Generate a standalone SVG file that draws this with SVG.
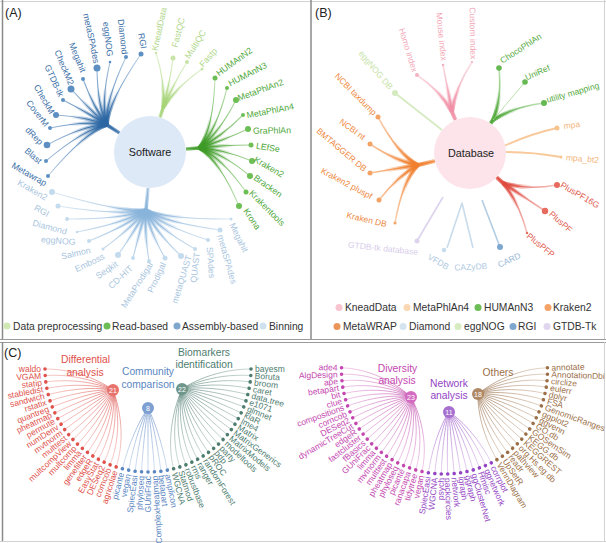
<svg xmlns="http://www.w3.org/2000/svg" width="606" height="543" viewBox="0 0 606 543">
<style>
text{font-family:"Liberation Sans",Arial,Helvetica,sans-serif}
.pl{font-size:12.5px;fill:#222}
.lg{font-size:10.3px;fill:#333}
.la{font-size:8.8px;text-anchor:middle}
.lb{font-size:8.5px;text-anchor:middle}
.lc{font-size:8.5px}
.e{text-anchor:end}
.ttl{font-size:10.3px;text-anchor:middle}
.num{font-size:7px;fill:#fff;text-anchor:middle}
.ctr{font-size:10.8px;fill:#222;text-anchor:middle}
.frame{stroke:#8a8a8a;stroke-width:1.5;fill:none}
.thin{stroke:#d2d2d2;stroke-width:1;fill:none}
.cl{fill:none;stroke-width:0.6}
</style>
<defs>
<radialGradient id="gBlue" gradientUnits="userSpaceOnUse" cx="107" cy="125" r="85"><stop offset="0" stop-color="#2b66a3"/><stop offset="1" stop-color="#6f9cc8" stop-opacity="0.4"/></radialGradient>
<radialGradient id="gBlueS" gradientUnits="userSpaceOnUse" cx="107" cy="125" r="38"><stop offset="0" stop-color="#2b66a3" stop-opacity="0.9"/><stop offset="1" stop-color="#2b66a3" stop-opacity="0"/></radialGradient>
<radialGradient id="gGreen" gradientUnits="userSpaceOnUse" cx="199" cy="148" r="75"><stop offset="0" stop-color="#3c9a25"/><stop offset="1" stop-color="#7cc464" stop-opacity="0.4"/></radialGradient>
<radialGradient id="gGreenS" gradientUnits="userSpaceOnUse" cx="199" cy="148" r="35"><stop offset="0" stop-color="#3c9a25" stop-opacity="0.9"/><stop offset="1" stop-color="#3c9a25" stop-opacity="0"/></radialGradient>
<radialGradient id="gLg" gradientUnits="userSpaceOnUse" cx="163" cy="108" r="60"><stop offset="0" stop-color="#a6d477"/><stop offset="1" stop-color="#cde8b0" stop-opacity="0.5"/></radialGradient>
<radialGradient id="gLgS" gradientUnits="userSpaceOnUse" cx="163" cy="108" r="30"><stop offset="0" stop-color="#a6d477" stop-opacity="0.9"/><stop offset="1" stop-color="#a6d477" stop-opacity="0"/></radialGradient>
<radialGradient id="gBin" gradientUnits="userSpaceOnUse" cx="146" cy="210" r="100"><stop offset="0" stop-color="#88b3da"/><stop offset="1" stop-color="#c9dded" stop-opacity="0.5"/></radialGradient>
<radialGradient id="gBinS" gradientUnits="userSpaceOnUse" cx="146" cy="210" r="40"><stop offset="0" stop-color="#88b3da" stop-opacity="0.9"/><stop offset="1" stop-color="#88b3da" stop-opacity="0"/></radialGradient>
<radialGradient id="gPink" gradientUnits="userSpaceOnUse" cx="452" cy="112" r="55"><stop offset="0" stop-color="#f08fa5"/><stop offset="1" stop-color="#f7c3cf" stop-opacity="0.5"/></radialGradient>
<radialGradient id="gPinkS" gradientUnits="userSpaceOnUse" cx="452" cy="112" r="30"><stop offset="0" stop-color="#f08fa5" stop-opacity="0.9"/><stop offset="1" stop-color="#f08fa5" stop-opacity="0"/></radialGradient>
<radialGradient id="gOr" gradientUnits="userSpaceOnUse" cx="418" cy="165" r="70"><stop offset="0" stop-color="#f07f2e"/><stop offset="1" stop-color="#f6b37f" stop-opacity="0.5"/></radialGradient>
<radialGradient id="gOrS" gradientUnits="userSpaceOnUse" cx="418" cy="165" r="35"><stop offset="0" stop-color="#f07f2e" stop-opacity="0.9"/><stop offset="1" stop-color="#f07f2e" stop-opacity="0"/></radialGradient>
<radialGradient id="gGr2" gradientUnits="userSpaceOnUse" cx="493" cy="120" r="60"><stop offset="0" stop-color="#4da738"/><stop offset="1" stop-color="#93cf80" stop-opacity="0.5"/></radialGradient>
<radialGradient id="gGr2S" gradientUnits="userSpaceOnUse" cx="493" cy="120" r="30"><stop offset="0" stop-color="#4da738" stop-opacity="0.9"/><stop offset="1" stop-color="#4da738" stop-opacity="0"/></radialGradient>
<radialGradient id="gRd" gradientUnits="userSpaceOnUse" cx="503" cy="183" r="60"><stop offset="0" stop-color="#df4a3e"/><stop offset="1" stop-color="#f09a91" stop-opacity="0.5"/></radialGradient>
<radialGradient id="gRdS" gradientUnits="userSpaceOnUse" cx="503" cy="183" r="30"><stop offset="0" stop-color="#df4a3e" stop-opacity="0.9"/><stop offset="1" stop-color="#df4a3e" stop-opacity="0"/></radialGradient>
<radialGradient id="gRed" gradientUnits="userSpaceOnUse" cx="113" cy="390" r="80"><stop offset="0" stop-color="#d8443e"/><stop offset="1" stop-color="#f2aaa5" stop-opacity="0.85"/></radialGradient>
<radialGradient id="gBl" gradientUnits="userSpaceOnUse" cx="148" cy="408" r="65"><stop offset="0" stop-color="#4d7bbd"/><stop offset="1" stop-color="#abc3e3" stop-opacity="0.85"/></radialGradient>
<radialGradient id="gTe" gradientUnits="userSpaceOnUse" cx="182" cy="389" r="85"><stop offset="0" stop-color="#3f6f62"/><stop offset="1" stop-color="#a9c3bb" stop-opacity="0.85"/></radialGradient>
<radialGradient id="gMa" gradientUnits="userSpaceOnUse" cx="411" cy="397" r="80"><stop offset="0" stop-color="#b8329f"/><stop offset="1" stop-color="#e8aadc" stop-opacity="0.85"/></radialGradient>
<radialGradient id="gPu" gradientUnits="userSpaceOnUse" cx="449" cy="412" r="65"><stop offset="0" stop-color="#8a3dbd"/><stop offset="1" stop-color="#d0abe6" stop-opacity="0.85"/></radialGradient>
<radialGradient id="gBr" gradientUnits="userSpaceOnUse" cx="478" cy="394" r="80"><stop offset="0" stop-color="#87582f"/><stop offset="1" stop-color="#d3bba2" stop-opacity="0.85"/></radialGradient>

<g id="fanBlue">
<path d="M107 125Q108.3 101.8 141 54"/><path d="M107 125Q104.5 102.5 126 57"/><path d="M107 125Q100.5 103.8 110 62"/><path d="M107 125Q97.3 105.3 97 68"/><path d="M107 125Q93.8 108 83 79"/><path d="M107 125Q90.8 110.5 71 89"/><path d="M107 125Q88.8 113.3 63 100"/><path d="M107 125Q87 117 56 115"/><path d="M107 125Q85.5 120.3 50 128"/><path d="M107 125Q84.8 124.5 47 145"/><path d="M107 125Q84.5 128.5 46 161"/><path d="M107 125Q85 132.3 48 176"/><path d="M107 125L119.5 133"/>
</g>
<g id="fanGreen">
<path d="M199 148Q213.5 128.3 215 78"/><path d="M199 148Q216.5 130.8 227 88"/><path d="M199 148Q218.8 133.8 236 100"/><path d="M199 148Q220.5 137.5 243 115"/><path d="M199 148Q221.8 141 248 129"/><path d="M199 148Q222.5 145 251 145"/><path d="M199 148Q222.8 149 252 161"/><path d="M199 148Q222.3 152.8 250 176"/><path d="M199 148Q221.3 156.8 246 192"/><path d="M199 148Q219.5 160.3 239 206"/><path d="M186 149L199 148"/>
</g>
<g id="fanLg">
<path d="M163 108Q165.4 82.4 156 53"/><path d="M163 108Q169.7 83.6 173 58"/><path d="M163 108Q173.2 84.6 187 62"/><path d="M163 108Q176.9 86.4 202 69"/><path d="M160 117.5L163 108"/>
</g>
<g id="fanBin">
<path d="M146 210Q120.1 212.4 52 192"/><path d="M146 210Q121.6 215.9 58 206"/><path d="M146 210Q123.9 219.2 67 219"/><path d="M146 210Q126.4 222.4 77 232"/><path d="M146 210Q129.4 224.7 89 241"/><path d="M146 210Q132.9 226.7 103 249"/><path d="M146 210Q136.6 228.2 118 255"/><path d="M146 210Q140.4 228.9 133 258"/><path d="M146 210Q144.1 229.9 149 261"/><path d="M146 210Q148.4 228.9 165 258"/><path d="M146 210Q152.4 228.4 181 256"/><path d="M146 210Q155.9 226.7 195 249"/><path d="M146 210Q159.1 224.4 208 240"/><path d="M146 210Q162.1 221.9 220 230"/><path d="M146 210Q164.9 219.2 231 219"/><path d="M148 188L146 210"/>
</g>
<g id="fanPink">
<path d="M452 112Q441.3 91.6 417 75"/><path d="M452 112Q447.8 89.1 443 65"/><path d="M452 112Q455 88.3 472 62"/><path d="M455.5 120L452 112"/>
</g>
<g id="fanOr">
<path d="M418 165Q398.1 154.6 378 117"/><path d="M418 165Q396.1 161.4 370 144"/><path d="M418 165Q396.1 168.6 370 173"/><path d="M418 165Q398.4 175.4 379 200"/><path d="M418 165Q402.4 181.1 395 223"/><path d="M435 161L418 165"/>
</g>
<g id="fanGr2">
<path d="M493 120Q502 98.1 499 68"/><path d="M493 120Q513.2 106.9 544 103"/><path d="M490.6 123.4L493 120"/>
</g>
<g id="fanRd">
<path d="M503 183Q526.5 190.2 557 185"/><path d="M503 183Q523.5 196.7 545 211"/><path d="M503 183Q519 202.2 527 233"/><path d="M496.6 177.2L503 183"/>
</g>
</defs>

<rect width="606" height="543" fill="#fff"/>

<g id="frames">
<line class="thin" x1="0" y1="1.5" x2="606" y2="1.5"/>
<line class="thin" x1="604.5" y1="0" x2="604.5" y2="339"/>
<line class="frame" x1="2.5" y1="0" x2="2.5" y2="340"/>
<line class="frame" x1="311" y1="0" x2="311" y2="339"/>
<line x1="0" y1="339.5" x2="606" y2="339.5" stroke="#9a9a9a" stroke-width="1"/>
<line x1="0" y1="342.5" x2="606" y2="342.5" stroke="#9a9a9a" stroke-width="1"/>
<line class="frame" x1="2.5" y1="342" x2="2.5" y2="542"/>
<line class="thin" x1="0" y1="541.5" x2="606" y2="541.5"/>
<line class="thin" x1="604.5" y1="342" x2="604.5" y2="542"/>
</g>

<g id="panel-labels">
<text class="pl" x="5" y="17">(A)</text>
<text class="pl" x="315" y="17">(B)</text>
<text class="pl" x="4" y="357">(C)</text>
</g>

<!-- ===== connectors ===== -->
<g id="connectors">
<use href="#fanBlue" fill="none" stroke="url(#gBlue)" stroke-width="1.1"/>
<use href="#fanBlue" fill="none" stroke="url(#gBlueS)" stroke-width="3.5"/>
<use href="#fanGreen" fill="none" stroke="url(#gGreen)" stroke-width="1.1"/>
<use href="#fanGreen" fill="none" stroke="url(#gGreenS)" stroke-width="3.5"/>
<use href="#fanLg" fill="none" stroke="url(#gLg)" stroke-width="1.2"/>
<use href="#fanLg" fill="none" stroke="url(#gLgS)" stroke-width="3.5"/>
<use href="#fanBin" fill="none" stroke="url(#gBin)" stroke-width="1.1"/>
<use href="#fanBin" fill="none" stroke="url(#gBinS)" stroke-width="3.5"/>

<use href="#fanPink" fill="none" stroke="url(#gPink)" stroke-width="1.6"/>
<use href="#fanPink" fill="none" stroke="url(#gPinkS)" stroke-width="4"/>
<path d="M442 130L395 93" stroke="#d6ebc2" stroke-width="1.8" fill="none"/>
<use href="#fanOr" fill="none" stroke="url(#gOr)" stroke-width="1.6"/>
<use href="#fanOr" fill="none" stroke="url(#gOrS)" stroke-width="4"/>
<path d="M443 197L417 241" stroke="#ddd3ee" stroke-width="1.6" fill="none"/>
<path d="M447 248L462 203L473 248" stroke="#c9dcec" stroke-width="1.6" fill="none" stroke-linejoin="round"/>
<path d="M482 200L500 247" stroke="#b3cce3" stroke-width="1.6" fill="none"/>
<use href="#fanGr2" fill="none" stroke="url(#gGr2)" stroke-width="1.6"/>
<use href="#fanGr2" fill="none" stroke="url(#gGr2S)" stroke-width="4"/>
<path d="M493 120Q508.5 101.6 525 82" stroke="#a9d99a" stroke-width="0.8" fill="none"/>
<g fill="none" stroke="#f8c99b" stroke-width="1.8">
<path d="M504 146Q530 134 557 128"/><path d="M505 152Q532 152 561 157"/>
</g>
<use href="#fanRd" fill="none" stroke="url(#gRd)" stroke-width="1.6"/>
<use href="#fanRd" fill="none" stroke="url(#gRdS)" stroke-width="4"/>

<g class="cl" stroke="url(#gRed)">
<path d="M113 390C113 390 86.2 369 45 369"/><path d="M113 390C113 390 86.3 372.9 45.2 375.5"/><path d="M113 390C113 390 86.7 376.8 45.8 381.9"/><path d="M113 390C113 390 87.3 380.6 46.8 388.3"/><path d="M113 390C113 390 88.1 384.4 48.2 394.6"/><path d="M113 390C113 390 89.2 388.1 50 400.8"/><path d="M113 390C113 390 90.5 391.8 52.2 406.9"/><path d="M113 390C113 390 92.1 395.3 54.8 412.9"/><path d="M113 390C113 390 93.8 398.8 57.7 418.6"/><path d="M113 390C113 390 95.8 402.1 61 424.2"/><path d="M113 390C113 390 98 405.3 64.7 429.5"/><path d="M113 390C113 390 100.4 408.4 68.6 434.7"/><path d="M113 390C113 390 103 411.3 72.9 439.5"/><path d="M113 390C113 390 105.7 414.1 77.5 444.1"/><path d="M113 390C113 390 108.6 416.6 82.4 448.4"/><path d="M113 390C113 390 111.7 419 87.5 452.3"/><path d="M113 390C113 390 114.9 421.2 92.8 456"/><path d="M113 390C113 390 118.2 423.2 98.4 459.3"/><path d="M113 390C113 390 121.7 424.9 104.1 462.2"/><path d="M113 390C113 390 125.3 426.5 110.1 464.8"/><path d="M113 390C113 390 128.9 427.8 116.2 467"/>
</g>
<g class="cl" stroke="url(#gBl)">
<path d="M148 408C148 408 132.6 428.9 122.4 468.8"/><path d="M148 408C148 408 136.4 429.7 128.7 470.2"/><path d="M148 408C148 408 140.3 430.3 135.1 471.2"/><path d="M148 408C148 408 144.1 430.7 141.5 471.8"/><path d="M148 408C148 408 148 430.8 148 472"/><path d="M148 408C148 408 151.9 430.7 154.5 471.8"/><path d="M148 408C148 408 155.8 430.3 160.9 471.2"/><path d="M148 408C148 408 159.6 429.7 167.3 470.2"/>
</g>
<g class="cl" stroke="url(#gTe)">
<path d="M182 389C182 389 163.4 428.9 173.6 468.8"/><path d="M182 389C182 389 167.1 427.8 179.8 467"/><path d="M182 389C182 389 170.8 426.5 185.9 464.8"/><path d="M182 389C182 389 174.3 424.9 191.9 462.2"/><path d="M182 389C182 389 177.8 423.2 197.6 459.3"/><path d="M182 389C182 389 181.1 421.2 203.2 456"/><path d="M182 389C182 389 184.3 419 208.5 452.3"/><path d="M182 389C182 389 187.4 416.6 213.6 448.4"/><path d="M182 389C182 389 190.3 414.1 218.5 444.1"/><path d="M182 389C182 389 193 411.3 223.1 439.5"/><path d="M182 389C182 389 195.6 408.4 227.4 434.7"/><path d="M182 389C182 389 198 405.3 231.3 429.5"/><path d="M182 389C182 389 200.2 402.1 235 424.2"/><path d="M182 389C182 389 202.2 398.8 238.3 418.6"/><path d="M182 389C182 389 203.9 395.3 241.2 412.9"/><path d="M182 389C182 389 205.5 391.8 243.8 406.9"/><path d="M182 389C182 389 206.8 388.1 246 400.8"/><path d="M182 389C182 389 207.9 384.4 247.8 394.6"/><path d="M182 389C182 389 208.7 380.6 249.2 388.3"/><path d="M182 389C182 389 209.3 376.8 250.2 381.9"/><path d="M182 389C182 389 209.7 372.9 250.8 375.5"/><path d="M182 389C182 389 209.8 369 251 369"/>
</g>
<g class="cl" stroke="url(#gMa)">
<path d="M411 397C411 397 382.7 369.1 341.6 367.8"/><path d="M411 397C411 397 382.7 372.9 341.6 374.2"/><path d="M411 397C411 397 383 376.8 342 380.7"/><path d="M411 397C411 397 383.5 380.7 342.8 387.1"/><path d="M411 397C411 397 384.2 384.5 344 393.5"/><path d="M411 397C411 397 385.2 388.2 345.6 399.7"/><path d="M411 397C411 397 386.4 391.9 347.6 405.9"/><path d="M411 397C411 397 387.8 395.6 350 411.9"/><path d="M411 397C411 397 389.4 399.1 352.7 417.8"/><path d="M411 397C411 397 391.3 402.5 355.8 423.4"/><path d="M411 397C411 397 393.4 405.7 359.3 428.9"/><path d="M411 397C411 397 395.7 408.9 363.1 434.1"/><path d="M411 397C411 397 398.1 411.9 367.2 439.1"/><path d="M411 397C411 397 400.8 414.7 371.7 443.8"/><path d="M411 397C411 397 403.6 417.4 376.4 448.3"/><path d="M411 397C411 397 406.6 419.8 381.4 452.4"/><path d="M411 397C411 397 409.8 422.1 386.6 456.2"/><path d="M411 397C411 397 413 424.2 392.1 459.7"/><path d="M411 397C411 397 416.4 426.1 397.7 462.8"/><path d="M411 397C411 397 420 427.7 403.6 465.5"/><path d="M411 397C411 397 423.6 429.2 409.6 467.9"/><path d="M411 397C411 397 427.3 430.4 415.8 469.9"/><path d="M411 397C411 397 431 431.3 422 471.5"/>
</g>
<g class="cl" stroke="url(#gPu)">
<path d="M449 412C449 412 434.8 432 428.4 472.7"/><path d="M449 412C449 412 438.7 432.5 434.8 473.5"/><path d="M449 412C449 412 442.6 432.8 441.3 474"/><path d="M449 412C449 412 446.4 432.8 447.7 474"/><path d="M449 412C449 412 450.3 432.5 454.2 473.5"/><path d="M449 412C449 412 454.2 432 460.6 472.7"/><path d="M449 412C449 412 458 431.3 467 471.5"/><path d="M449 412C449 412 461.7 430.4 473.2 469.9"/><path d="M449 412C449 412 465.4 429.2 479.4 467.9"/><path d="M449 412C449 412 469.1 427.7 485.4 465.5"/><path d="M449 412C449 412 472.6 426.1 491.3 462.8"/>
</g>
<g class="cl" stroke="url(#gBr)">
<path d="M478 394C478 394 476 424.2 496.9 459.7"/><path d="M478 394C478 394 479.2 422.1 502.4 456.2"/><path d="M478 394C478 394 482.4 419.8 507.6 452.4"/><path d="M478 394C478 394 485.4 417.4 512.6 448.3"/><path d="M478 394C478 394 488.2 414.7 517.3 443.8"/><path d="M478 394C478 394 490.9 411.9 521.8 439.1"/><path d="M478 394C478 394 493.3 408.9 525.9 434.1"/><path d="M478 394C478 394 495.6 405.7 529.7 428.9"/><path d="M478 394C478 394 497.7 402.5 533.2 423.4"/><path d="M478 394C478 394 499.6 399.1 536.3 417.8"/><path d="M478 394C478 394 501.2 395.6 539 411.9"/><path d="M478 394C478 394 502.7 391.9 541.4 405.9"/><path d="M478 394C478 394 503.9 388.2 543.4 399.7"/><path d="M478 394C478 394 504.8 384.5 545 393.5"/><path d="M478 394C478 394 505.5 380.7 546.2 387.1"/><path d="M478 394C478 394 506 376.8 547 380.7"/><path d="M478 394C478 394 506.3 372.9 547.5 374.2"/><path d="M478 394C478 394 506.3 369.1 547.5 367.8"/>
</g>
</g>

<!-- ===== Panel A ===== -->
<g id="software">
<circle cx="150" cy="152" r="36" fill="#dde9f7"/>
<text class="ctr" x="150" y="156">Software</text>
</g>
<g id="a-assembly" class="la" fill="#3d71a8">
<g fill="#5d8fc3"><circle cx="141" cy="54" r="2.5"/><circle cx="126" cy="57" r="2"/><circle cx="110" cy="62" r="1.3"/><circle cx="97" cy="68" r="3.5"/><circle cx="83" cy="79" r="2"/><circle cx="71" cy="89" r="3.5"/><circle cx="63" cy="100" r="2"/><circle cx="56" cy="115" r="3"/><circle cx="50" cy="128" r="2"/><circle cx="47" cy="145" r="3.3"/><circle cx="46" cy="161" r="2"/><circle cx="48" cy="176" r="2"/></g>
<text transform="translate(142.5 40.8) rotate(79)" dy="3">RGI</text>
<text transform="translate(122.8 36.7) rotate(83)" dy="3">Diamond</text>
<text transform="translate(108 39.2) rotate(83)" dy="3">eggNOG</text>
<text transform="translate(91.3 38.3) rotate(78)" dy="3">metaSPAdes</text>
<text transform="translate(77.5 57.5) rotate(68)" dy="3">Megahit</text>
<text transform="translate(64.2 67.5) rotate(67)" dy="3">CheckM2</text>
<text transform="translate(54.2 80.8) rotate(65)" dy="3">GTDB-tk</text>
<text transform="translate(44.2 99.2) rotate(60)" dy="3">CheckM</text>
<text transform="translate(37.5 113.3) rotate(52)" dy="3">CoverM</text>
<text transform="translate(34.2 135.8) rotate(45)" dy="3">dRep</text>
<text transform="translate(33.3 155.8) rotate(41)" dy="3">Blast</text>
<text transform="translate(29.2 174.2) rotate(30)" dy="3">Metawrap</text>
</g>
<g id="a-read" class="la" fill="#4fa83a">
<g fill="#6cbe55"><circle cx="215" cy="78" r="2.5"/><circle cx="227" cy="88" r="2"/><circle cx="236" cy="100" r="3"/><circle cx="243" cy="115" r="2"/><circle cx="248" cy="129" r="3"/><circle cx="251" cy="145" r="2.5"/><circle cx="252" cy="161" r="3"/><circle cx="250" cy="176" r="3"/><circle cx="246" cy="192" r="2.5"/><circle cx="239" cy="206" r="3"/></g>
<text transform="translate(234.2 61.7) rotate(-36)" dy="3">HUMAnN2</text>
<text transform="translate(247.5 74.2) rotate(-27)" dy="3">HUMAnN3</text>
<text transform="translate(260.5 90) rotate(-20)" dy="3">MetaPhlAn2</text>
<text transform="translate(270.2 110.8) rotate(-11)" dy="3">MetaPhlAn4</text>
<text transform="translate(272 130.5) rotate(-1)" dy="3">GraPhlAn</text>
<text transform="translate(268 147.5) rotate(8)" dy="3">LEfSe</text>
<text transform="translate(269 167) rotate(30)" dy="3">Kraken2</text>
<text transform="translate(268 186) rotate(35)" dy="3">Bracken</text>
<text transform="translate(267 208) rotate(45)" dy="3">Krakentools</text>
<text transform="translate(252 219) rotate(56)" dy="3">Krona</text>
</g>
<g id="a-preproc" class="la" fill="#b2d88c">
<g fill="#c8e4a8"><circle cx="156" cy="53" r="1.2"/><circle cx="173" cy="58" r="2.5"/><circle cx="187" cy="62" r="2"/><circle cx="202" cy="69" r="1.5"/></g>
<text transform="translate(159.2 29.2) rotate(-78)" dy="3">KneadData</text>
<text transform="translate(178.3 32.5) rotate(-76)" dy="3">FastQC</text>
<text transform="translate(195.5 44.2) rotate(-58)" dy="3">MultiQC</text>
<text transform="translate(208.3 57.5) rotate(-48)" dy="3">Fastp</text>
</g>
<g id="a-binning" class="la" fill="#a9c5de">
<g fill="#c4dbee"><circle cx="52" cy="192" r="3"/><circle cx="58" cy="206" r="2.5"/><circle cx="67" cy="219" r="2"/><circle cx="77" cy="232" r="1.3"/><circle cx="89" cy="241" r="2"/><circle cx="103" cy="249" r="1.5"/><circle cx="118" cy="255" r="3"/><circle cx="133" cy="258" r="2"/><circle cx="149" cy="261" r="2"/><circle cx="165" cy="258" r="2.5"/><circle cx="181" cy="256" r="3"/><circle cx="195" cy="249" r="2"/><circle cx="208" cy="240" r="2"/><circle cx="220" cy="230" r="2.5"/><circle cx="231" cy="219" r="1.5"/></g>
<text transform="translate(32.5 190) rotate(30)" dy="3">Kraken2</text>
<text transform="translate(41.7 210.8) rotate(28)" dy="3">RGI</text>
<text transform="translate(49.7 227.2) rotate(15)" dy="3">Diamond</text>
<text transform="translate(58.3 240.7) rotate(5)" dy="3">eggNOG</text>
<text transform="translate(75.8 253.3) rotate(-13)" dy="3">Salmon</text>
<text transform="translate(89.7 262.7) rotate(-26)" dy="3">Emboss</text>
<text transform="translate(106.7 270) rotate(-34)" dy="3">Seqkit</text>
<text transform="translate(120.5 277) rotate(-43)" dy="3">CD-HIT</text>
<text transform="translate(137 285) rotate(-58)" dy="3">MetaProdigal</text>
<text transform="translate(156.7 277.5) rotate(-65)" dy="3">Prodigal</text>
<text transform="translate(181.7 279.2) rotate(-73)" dy="3">metaQUAST</text>
<text transform="translate(195 267.5) rotate(-83)" dy="3">QUAST</text>
<text transform="translate(210.8 262.5) rotate(85)" dy="3">SPAdes</text>
<text transform="translate(227 259.2) rotate(74)" dy="3">metaSPAdes</text>
<text transform="translate(238.8 237.5) rotate(64)" dy="3">Megahit</text>
</g>
<g id="legend-a" class="lg">
<circle cx="7" cy="326" r="3.5" fill="#cfe8b4"/><text x="13" y="330">Data preprocessing</text>
<circle cx="107" cy="326" r="3.5" fill="#6cbd55"/><text x="112" y="330">Read-based</text>
<circle cx="177" cy="326" r="3.5" fill="#7fa6cc"/><text x="182" y="330">Assembly-based</text>
<circle cx="263" cy="326" r="3.5" fill="#cfe1ef"/><text x="269" y="330">Binning</text>
</g>

<!-- ===== Panel B ===== -->
<g id="database">
<circle cx="470" cy="153" r="36" fill="#fde3ea"/>
<text class="ctr" x="471" y="157">Database</text>
</g>
<g id="b-knead" class="lb" fill="#f3a8b8">
<circle cx="417" cy="75" r="2" fill="#f4b3c1"/><circle cx="443" cy="65" r="1.3" fill="#f4b3c1"/><circle cx="472" cy="62" r="1.1" fill="#f4b3c1"/>
<text transform="translate(408.3 50) rotate(73)" dy="3">Homo index</text>
<text transform="translate(441.7 36.7) rotate(84)" dy="3">Mouse index</text>
<text transform="translate(473 33.3) rotate(89)" dy="3">Custom index</text>
</g>
<g id="b-eggnog" class="lb" fill="#c8e3a9">
<circle cx="395" cy="93" r="3" fill="#d4ebbf"/>
<text transform="translate(375.8 70) rotate(50)" dy="3">eggNOG DB</text>
</g>
<g id="b-metawrap" class="lb" fill="#ee8a43">
<g fill="#f3a366"><circle cx="378" cy="117" r="2.5"/><circle cx="370" cy="144" r="2.5"/><circle cx="370" cy="173" r="2.5"/><circle cx="379" cy="200" r="2.5"/><circle cx="395" cy="223" r="1.5"/></g>
<text transform="translate(355.8 94.2) rotate(45)" dy="3">NCBI taxdump</text>
<text transform="translate(352.5 129.2) rotate(36)" dy="3">NCBI nt</text>
<text transform="translate(341.7 149.7) rotate(40)" dy="3">BMTAGGER DB</text>
<text transform="translate(346.7 183.3) rotate(28)" dy="3">Kraken2 pluspf</text>
<text transform="translate(366.7 219.5) rotate(13)" dy="3">Kraken DB</text>
</g>
<g id="b-gtdb" class="lb" fill="#d8cdea">
<circle cx="417" cy="241" r="2.5" fill="#ddd3ee"/>
<text transform="translate(383 248.3) rotate(6)" dy="3">GTDB-tk database</text>
</g>
<g id="b-diamond" class="lb" fill="#afcae2">
<circle cx="444" cy="250" r="2.3" fill="#c7dcec"/>
<text transform="translate(438.3 261.7) rotate(30)" dy="3">VFDB</text>
<text transform="translate(470.8 266.7) rotate(-3)" dy="3">CAZyDB</text>
</g>
<g id="b-rgi" class="lb" fill="#9dbbd8">
<circle cx="500" cy="247" r="3" fill="#7ea7cf"/>
<text transform="translate(509.2 260) rotate(-25)" dy="3">CARD</text>
</g>
<g id="b-humann" class="lb" fill="#58ab45">
<g fill="#66b852"><circle cx="499" cy="68" r="2.8"/><circle cx="525" cy="82" r="2.8"/><circle cx="544" cy="103" r="3"/></g>
<text transform="translate(520.8 48.3) rotate(-33)" dy="3">ChocoPhlAn</text>
<text transform="translate(537.5 72.5) rotate(-24)" dy="3">UniRef</text>
<text transform="translate(572.8 92.5) rotate(-16)" dy="3">utility mapping</text>
</g>
<g id="b-metaphlan" class="lb" fill="#f4b57a">
<circle cx="557" cy="128" r="2.5" fill="#f7c490"/><circle cx="561" cy="157" r="1.5" fill="#f7c490"/>
<text transform="translate(571.7 125) rotate(-8)" dy="3">mpa</text>
<text transform="translate(582.5 158.7) rotate(5)" dy="3">mpa_bt2</text>
</g>
<g id="b-kraken" class="lb" fill="#e05a4e">
<g fill="#e66a5e"><circle cx="557" cy="185" r="3"/><circle cx="545" cy="211" r="3.2"/><circle cx="527" cy="233" r="1.2"/></g>
<text transform="translate(580 195) rotate(30)" dy="3">PlusPF16G</text>
<text transform="translate(560.8 221.7) rotate(42)" dy="3">PlusPF</text>
<text transform="translate(540.8 245) rotate(39)" dy="3">PlusPFP</text>
</g>
<g id="legend-b" class="lg">
<circle cx="339" cy="307.5" r="3.5" fill="#f8c4cf"/><text x="345" y="311">KneadData</text>
<circle cx="407" cy="307.5" r="3.5" fill="#f9d8b3"/><text x="413" y="311">MetaPhlAn4</text>
<circle cx="478" cy="307.5" r="3.5" fill="#6cbd55"/><text x="484" y="311">HUMAnN3</text>
<circle cx="548" cy="307.5" r="3.5" fill="#f4a368"/><text x="553" y="311">Kraken2</text>
<circle cx="337" cy="326.5" r="3.5" fill="#ec9558"/><text x="343" y="330">MetaWRAP</text>
<circle cx="403" cy="326.5" r="3.5" fill="#d3e3f0"/><text x="409" y="330">Diamond</text>
<circle cx="458" cy="326.5" r="3.5" fill="#d6ecc0"/><text x="464" y="330">eggNOG</text>
<circle cx="513" cy="326.5" r="3.5" fill="#7fa6cc"/><text x="518" y="330">RGI</text>
<circle cx="547" cy="326.5" r="3.5" fill="#e0d6ee"/><text x="553" y="330">GTDB-Tk</text>
</g>

<!-- ===== Panel C ===== -->
<g id="c-diff">
<text class="ttl" x="85.5" y="363" fill="#e0504a">Differential</text>
<text class="ttl" x="85" y="376" fill="#e0504a">analysis</text>
<circle cx="113" cy="390" r="6" fill="#e8736d"/><text class="num" x="113" y="392.5">21</text>
</g>
<g id="c-comm">
<text class="ttl" x="148" y="375" fill="#5a86c2">Community</text>
<text class="ttl" x="148" y="388" fill="#5a86c2">comparison</text>
<circle cx="148" cy="408" r="6" fill="#7d9fd2"/><text class="num" x="148" y="410.5">8</text>
</g>
<g id="c-bio">
<text class="ttl" x="204" y="356" fill="#4e7d70">Biomarkers</text>
<text class="ttl" x="204" y="368" fill="#4e7d70">identification</text>
<circle cx="182" cy="389" r="6" fill="#6f968b"/><text class="num" x="182" y="391.5">22</text>
</g>
<g id="c-div">
<text class="ttl" x="397.5" y="372" fill="#c447b0">Diversity</text>
<text class="ttl" x="397" y="384" fill="#c447b0">analysis</text>
<circle cx="411" cy="397" r="6" fill="#d26bc1"/><text class="num" x="411" y="399.5">23</text>
</g>
<g id="c-net">
<text class="ttl" x="449" y="387" fill="#9344c4">Network</text>
<text class="ttl" x="449" y="399" fill="#9344c4">analysis</text>
<circle cx="449" cy="412" r="6" fill="#a66fd0"/><text class="num" x="449" y="414.5">11</text>
</g>
<g id="c-oth">
<text class="ttl" x="498" y="376" fill="#9b7048">Others</text>
<circle cx="478" cy="394" r="6" fill="#b08a66"/><text class="num" x="478" y="396.5">18</text>
</g>

<g id="c-leaves-diff" class="lc" fill="#e0524c">
<g transform="translate(148 369)"><circle cx="-103" r="1.8"/><text x="-107" dy="3" class="e">waldo</text></g>
<g transform="translate(148 369) rotate(-3.6)"><circle cx="-103" r="1.8"/><text x="-107" dy="3" class="e">VGAM</text></g>
<g transform="translate(148 369) rotate(-7.2)"><circle cx="-103" r="1.8"/><text x="-107" dy="3" class="e">statip</text></g>
<g transform="translate(148 369) rotate(-10.8)"><circle cx="-103" r="1.8"/><text x="-107" dy="3" class="e">stabledist</text></g>
<g transform="translate(148 369) rotate(-14.4)"><circle cx="-103" r="1.8"/><text x="-107" dy="3" class="e">sandwich</text></g>
<g transform="translate(148 369) rotate(-18)"><circle cx="-103" r="1.8"/><text x="-107" dy="3" class="e">rstatix</text></g>
<g transform="translate(148 369) rotate(-21.6)"><circle cx="-103" r="1.8"/><text x="-107" dy="3" class="e">quantreg</text></g>
<g transform="translate(148 369) rotate(-25.2)"><circle cx="-103" r="1.8"/><text x="-107" dy="3" class="e">pheatmap</text></g>
<g transform="translate(148 369) rotate(-28.8)"><circle cx="-103" r="1.8"/><text x="-107" dy="3" class="e">permute</text></g>
<g transform="translate(148 369) rotate(-32.4)"><circle cx="-103" r="1.8"/><text x="-107" dy="3" class="e">numDeriv</text></g>
<g transform="translate(148 369) rotate(-36)"><circle cx="-103" r="1.8"/><text x="-107" dy="3" class="e">mvtnorm</text></g>
<g transform="translate(148 369) rotate(-39.6)"><circle cx="-103" r="1.8"/><text x="-107" dy="3" class="e">multtest</text></g>
<g transform="translate(148 369) rotate(-43.2)"><circle cx="-103" r="1.8"/><text x="-107" dy="3" class="e">multcompView</text></g>
<g transform="translate(148 369) rotate(-46.8)"><circle cx="-103" r="1.8"/><text x="-107" dy="3" class="e">multcomp</text></g>
<g transform="translate(148 369) rotate(-50.4)"><circle cx="-103" r="1.8"/><text x="-107" dy="3" class="e">limma</text></g>
<g transform="translate(148 369) rotate(-54)"><circle cx="-103" r="1.8"/><text x="-107" dy="3" class="e">genefilter</text></g>
<g transform="translate(148 369) rotate(-57.6)"><circle cx="-103" r="1.8"/><text x="-107" dy="3" class="e">edgeR</text></g>
<g transform="translate(148 369) rotate(-61.2)"><circle cx="-103" r="1.8"/><text x="-107" dy="3" class="e">EasyStat</text></g>
<g transform="translate(148 369) rotate(-64.8)"><circle cx="-103" r="1.8"/><text x="-107" dy="3" class="e">DESeq2</text></g>
<g transform="translate(148 369) rotate(-68.4)"><circle cx="-103" r="1.8"/><text x="-107" dy="3" class="e">corncob</text></g>
<g transform="translate(148 369) rotate(-72)"><circle cx="-103" r="1.8"/><text x="-107" dy="3" class="e">agricolae</text></g>
</g>
<g id="c-leaves-comm" class="lc" fill="#5a86c2">
<g transform="translate(148 369) rotate(-75.6)"><circle cx="-103" r="1.8"/><text x="-107" dy="3" class="e">picante</text></g>
<g transform="translate(148 369) rotate(-79.2)"><circle cx="-103" r="1.8"/><text x="-107" dy="3" class="e">vegan</text></g>
<g transform="translate(148 369) rotate(-82.8)"><circle cx="-103" r="1.8"/><text x="-107" dy="3" class="e">SpiecEasi</text></g>
<g transform="translate(148 369) rotate(-86.4)"><circle cx="-103" r="1.8"/><text x="-107" dy="3" class="e">phyloseq</text></g>
<g transform="translate(148 369) rotate(-90)"><circle cx="-103" r="1.8"/><text x="-107" dy="3" class="e">GUniFrac</text></g>
<g transform="translate(148 369) rotate(-93.6)"><circle cx="-103" r="1.8"/><text x="-107" dy="3" class="e">ComplexHeatmap</text></g>
<g transform="translate(148 369) rotate(82.8)"><circle cx="103" r="1.8"/><text x="107" dy="3">betapart</text></g>
<g transform="translate(148 369) rotate(79.2)"><circle cx="103" r="1.8"/><text x="107" dy="3">amplicon</text></g>
</g>
<g id="c-leaves-bio" class="lc" fill="#4e7d70">
<g transform="translate(148 369) rotate(75.6)"><circle cx="103" r="1.8"/><text x="107" dy="3">WGCNA</text></g>
<g transform="translate(148 369) rotate(72)"><circle cx="103" r="1.8"/><text x="107" dy="3">Statmod</text></g>
<g transform="translate(148 369) rotate(68.4)"><circle cx="103" r="1.8"/><text x="107" dy="3">robustbase</text></g>
<g transform="translate(148 369) rotate(64.8)"><circle cx="103" r="1.8"/><text x="107" dy="3">rms</text></g>
<g transform="translate(148 369) rotate(61.2)"><circle cx="103" r="1.8"/><text x="107" dy="3">ranger</text></g>
<g transform="translate(148 369) rotate(57.6)"><circle cx="103" r="1.8"/><text x="107" dy="3">randomForest</text></g>
<g transform="translate(148 369) rotate(54)"><circle cx="103" r="1.8"/><text x="107" dy="3">pROC</text></g>
<g transform="translate(148 369) rotate(50.4)"><circle cx="103" r="1.8"/><text x="107" dy="3">pdp</text></g>
<g transform="translate(148 369) rotate(46.8)"><circle cx="103" r="1.8"/><text x="107" dy="3">party</text></g>
<g transform="translate(148 369) rotate(43.2)"><circle cx="103" r="1.8"/><text x="107" dy="3">modeltools</text></g>
<g transform="translate(148 369) rotate(39.6)"><circle cx="103" r="1.8"/><text x="107" dy="3">MatrixModels</text></g>
<g transform="translate(148 369) rotate(36)"><circle cx="103" r="1.8"/><text x="107" dy="3">MatrixGenerics</text></g>
<g transform="translate(148 369) rotate(32.4)"><circle cx="103" r="1.8"/><text x="107" dy="3">Matrix</text></g>
<g transform="translate(148 369) rotate(28.8)"><circle cx="103" r="1.8"/><text x="107" dy="3">lme4</text></g>
<g transform="translate(148 369) rotate(25.2)"><circle cx="103" r="1.8"/><text x="107" dy="3">klaR</text></g>
<g transform="translate(148 369) rotate(21.6)"><circle cx="103" r="1.8"/><text x="107" dy="3">glmnet</text></g>
<g transform="translate(148 369) rotate(18)"><circle cx="103" r="1.8"/><text x="107" dy="3">e1071</text></g>
<g transform="translate(148 369) rotate(14.4)"><circle cx="103" r="1.8"/><text x="107" dy="3">data.tree</text></g>
<g transform="translate(148 369) rotate(10.8)"><circle cx="103" r="1.8"/><text x="107" dy="3">caret</text></g>
<g transform="translate(148 369) rotate(7.2)"><circle cx="103" r="1.8"/><text x="107" dy="3">broom</text></g>
<g transform="translate(148 369) rotate(3.6)"><circle cx="103" r="1.8"/><text x="107" dy="3">Boruta</text></g>
<g transform="translate(148 369)"><circle cx="103" r="1.8"/><text x="107" dy="3">bayesm</text></g>
</g>

<g id="c-leaves-div" class="lc" fill="#c447b0">
<g transform="translate(444.5 371) rotate(1.8)"><circle cx="-103" r="1.8"/><text x="-107" dy="3" class="e">ade4</text></g>
<g transform="translate(444.5 371) rotate(-1.8)"><circle cx="-103" r="1.8"/><text x="-107" dy="3" class="e">AlgDesign</text></g>
<g transform="translate(444.5 371) rotate(-5.4)"><circle cx="-103" r="1.8"/><text x="-107" dy="3" class="e">ape</text></g>
<g transform="translate(444.5 371) rotate(-9)"><circle cx="-103" r="1.8"/><text x="-107" dy="3" class="e">betapart</text></g>
<g transform="translate(444.5 371) rotate(-12.6)"><circle cx="-103" r="1.8"/><text x="-107" dy="3" class="e">bit</text></g>
<g transform="translate(444.5 371) rotate(-16.2)"><circle cx="-103" r="1.8"/><text x="-107" dy="3" class="e">clue</text></g>
<g transform="translate(444.5 371) rotate(-19.8)"><circle cx="-103" r="1.8"/><text x="-107" dy="3" class="e">compositions</text></g>
<g transform="translate(444.5 371) rotate(-23.4)"><circle cx="-103" r="1.8"/><text x="-107" dy="3" class="e">corncob</text></g>
<g transform="translate(444.5 371) rotate(-27)"><circle cx="-103" r="1.8"/><text x="-107" dy="3" class="e">DESeq2</text></g>
<g transform="translate(444.5 371) rotate(-30.6)"><circle cx="-103" r="1.8"/><text x="-107" dy="3" class="e">dynamicTreeCut</text></g>
<g transform="translate(444.5 371) rotate(-34.2)"><circle cx="-103" r="1.8"/><text x="-107" dy="3" class="e">edgeR</text></g>
<g transform="translate(444.5 371) rotate(-37.8)"><circle cx="-103" r="1.8"/><text x="-107" dy="3" class="e">fastcluster</text></g>
<g transform="translate(444.5 371) rotate(-41.4)"><circle cx="-103" r="1.8"/><text x="-107" dy="3" class="e">fBasics</text></g>
<g transform="translate(444.5 371) rotate(-45)"><circle cx="-103" r="1.8"/><text x="-107" dy="3" class="e">GUniFrac</text></g>
<g transform="translate(444.5 371) rotate(-48.6)"><circle cx="-103" r="1.8"/><text x="-107" dy="3" class="e">limma</text></g>
<g transform="translate(444.5 371) rotate(-52.2)"><circle cx="-103" r="1.8"/><text x="-107" dy="3" class="e">mvtnorm</text></g>
<g transform="translate(444.5 371) rotate(-55.8)"><circle cx="-103" r="1.8"/><text x="-107" dy="3" class="e">multtest</text></g>
<g transform="translate(444.5 371) rotate(-59.4)"><circle cx="-103" r="1.8"/><text x="-107" dy="3" class="e">pheatmap</text></g>
<g transform="translate(444.5 371) rotate(-63)"><circle cx="-103" r="1.8"/><text x="-107" dy="3" class="e">phyloseq</text></g>
<g transform="translate(444.5 371) rotate(-66.6)"><circle cx="-103" r="1.8"/><text x="-107" dy="3" class="e">picante</text></g>
<g transform="translate(444.5 371) rotate(-70.2)"><circle cx="-103" r="1.8"/><text x="-107" dy="3" class="e">ranacapa</text></g>
<g transform="translate(444.5 371) rotate(-73.8)"><circle cx="-103" r="1.8"/><text x="-107" dy="3" class="e">tidytree</text></g>
<g transform="translate(444.5 371) rotate(-77.4)"><circle cx="-103" r="1.8"/><text x="-107" dy="3" class="e">vegan</text></g>
</g>
<g id="c-leaves-net" class="lc" fill="#9344c4">
<g transform="translate(444.5 371) rotate(-81)"><circle cx="-103" r="1.8"/><text x="-107" dy="3" class="e">SpiecEasi</text></g>
<g transform="translate(444.5 371) rotate(-84.6)"><circle cx="-103" r="1.8"/><text x="-107" dy="3" class="e">WGCNA</text></g>
<g transform="translate(444.5 371) rotate(-88.2)"><circle cx="-103" r="1.8"/><text x="-107" dy="3" class="e">psych</text></g>
<g transform="translate(444.5 371) rotate(88.2)"><circle cx="103" r="1.8"/><text x="107" dy="3">packcircles</text></g>
<g transform="translate(444.5 371) rotate(84.6)"><circle cx="103" r="1.8"/><text x="107" dy="3">network</text></g>
<g transform="translate(444.5 371) rotate(81)"><circle cx="103" r="1.8"/><text x="107" dy="3">igraph</text></g>
<g transform="translate(444.5 371) rotate(77.4)"><circle cx="103" r="1.8"/><text x="107" dy="3">ggraph</text></g>
<g transform="translate(444.5 371) rotate(73.8)"><circle cx="103" r="1.8"/><text x="107" dy="3">ggClusterNet</text></g>
<g transform="translate(444.5 371) rotate(70.2)"><circle cx="103" r="1.8"/><text x="107" dy="3">Hmisc</text></g>
<g transform="translate(444.5 371) rotate(66.6)"><circle cx="103" r="1.8"/><text x="107" dy="3">ggnetwork</text></g>
<g transform="translate(444.5 371) rotate(63)"><circle cx="103" r="1.8"/><text x="107" dy="3">corrplot</text></g>
</g>
<g id="c-leaves-oth" class="lc" fill="#9b7048">
<g transform="translate(444.5 371) rotate(59.4)"><circle cx="103" r="1.8"/><text x="107" dy="3">VennDiagram</text></g>
<g transform="translate(444.5 371) rotate(55.8)"><circle cx="103" r="1.8"/><text x="107" dy="3">UpSetR</text></g>
<g transform="translate(444.5 371) rotate(52.2)"><circle cx="103" r="1.8"/><text x="107" dy="3">readr</text></g>
<g transform="translate(444.5 371) rotate(48.6)"><circle cx="103" r="1.8"/><text x="107" dy="3">pathview</text></g>
<g transform="translate(444.5 371) rotate(45)"><circle cx="103" r="1.8"/><text x="107" dy="3">org.Hs.eg.db</text></g>
<g transform="translate(444.5 371) rotate(41.4)"><circle cx="103" r="1.8"/><text x="107" dy="3">KEGGREST</text></g>
<g transform="translate(444.5 371) rotate(37.8)"><circle cx="103" r="1.8"/><text x="107" dy="3">KEGG.db</text></g>
<g transform="translate(444.5 371) rotate(34.2)"><circle cx="103" r="1.8"/><text x="107" dy="3">GOSemSim</text></g>
<g transform="translate(444.5 371) rotate(30.6)"><circle cx="103" r="1.8"/><text x="107" dy="3">GO.db</text></g>
<g transform="translate(444.5 371) rotate(27)"><circle cx="103" r="1.8"/><text x="107" dy="3">ggvenn</text></g>
<g transform="translate(444.5 371) rotate(23.4)"><circle cx="103" r="1.8"/><text x="107" dy="3">ggplot2</text></g>
<g transform="translate(444.5 371) rotate(19.8)"><circle cx="103" r="1.8"/><text x="107" dy="3">GenomicRanges</text></g>
<g transform="translate(444.5 371) rotate(16.2)"><circle cx="103" r="1.8"/><text x="107" dy="3">FSA</text></g>
<g transform="translate(444.5 371) rotate(12.6)"><circle cx="103" r="1.8"/><text x="107" dy="3">dplyr</text></g>
<g transform="translate(444.5 371) rotate(9)"><circle cx="103" r="1.8"/><text x="107" dy="3">eulerr</text></g>
<g transform="translate(444.5 371) rotate(5.4)"><circle cx="103" r="1.8"/><text x="107" dy="3">circlize</text></g>
<g transform="translate(444.5 371) rotate(1.8)"><circle cx="103" r="1.8"/><text x="107" dy="3">AnnotationDbi</text></g>
<g transform="translate(444.5 371) rotate(-1.8)"><circle cx="103" r="1.8"/><text x="107" dy="3">annotate</text></g>
</g>
</svg>
